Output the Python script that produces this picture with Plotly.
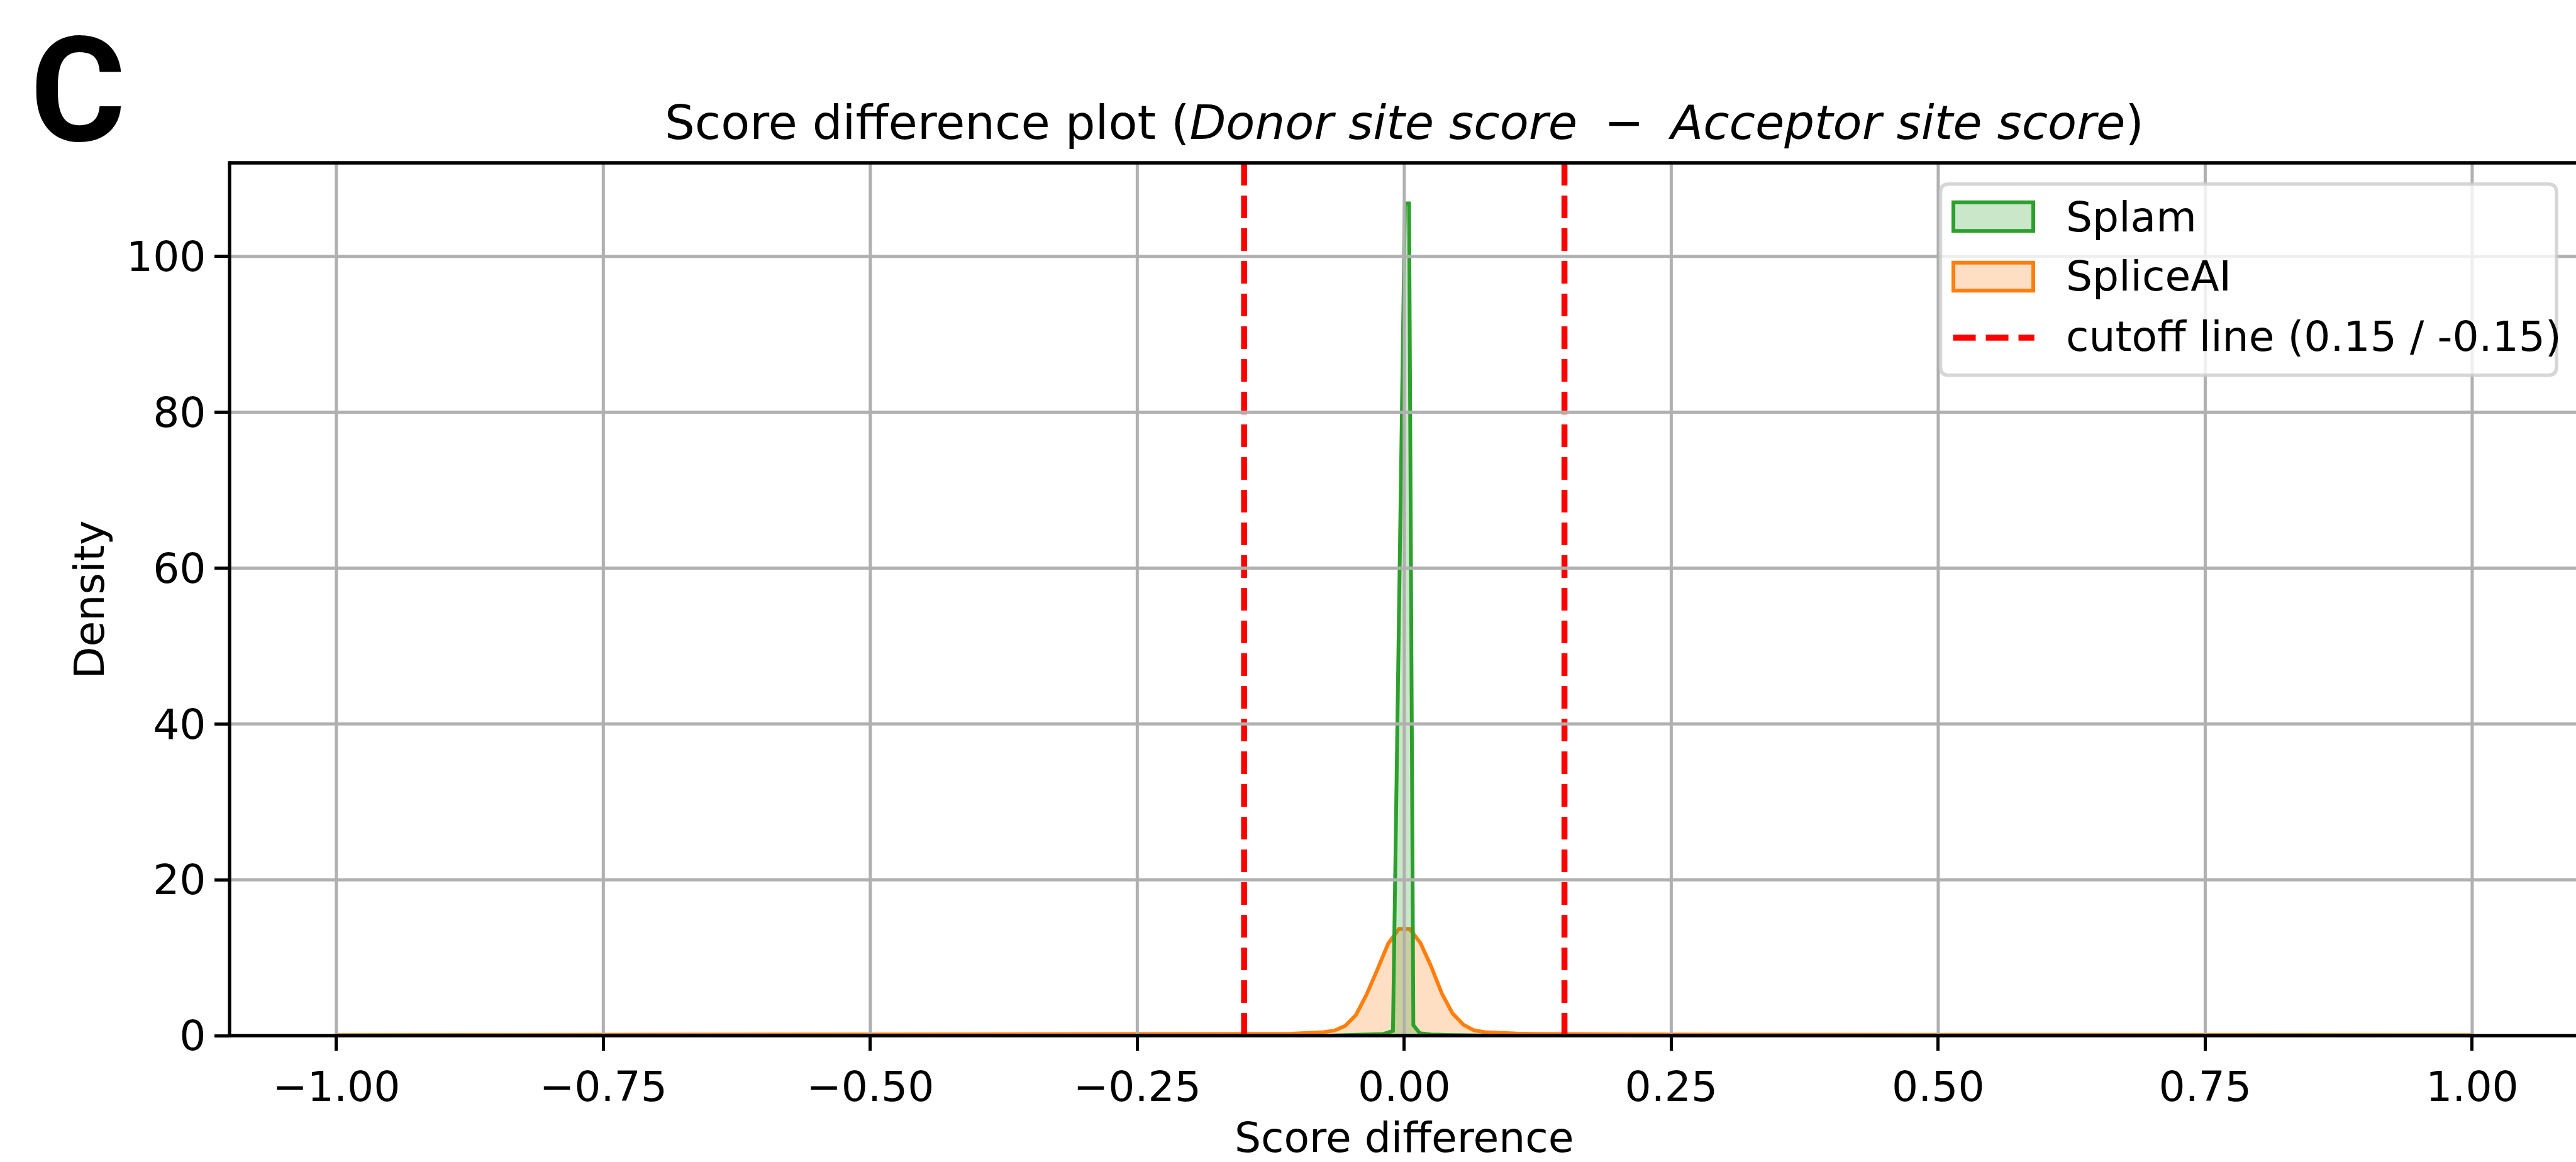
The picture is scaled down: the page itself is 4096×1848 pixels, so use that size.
import plotly.graph_objects as go

# ---------------- data ----------------
spliceai_x = [-1.0, -0.8, -0.6, -0.4, -0.3, -0.2, -0.15, -0.12, -0.1055, -0.0955, -0.0854,
              -0.0754, -0.0653, -0.0553, -0.0452, -0.0352, -0.0251, -0.0151, -0.0050,
              0.0050, 0.0151, 0.0251, 0.0352, 0.0452, 0.0553, 0.0653, 0.0754, 0.0854,
              0.0955, 0.1055, 0.12, 0.15, 0.2, 0.3, 0.4, 0.6, 0.8, 1.0]
spliceai_y = [0.06, 0.07, 0.08, 0.10, 0.12, 0.16, 0.19, 0.22, 0.25, 0.29, 0.35,
              0.45, 0.65, 1.25, 2.65, 5.3, 8.5, 11.8, 13.7,
              13.7, 11.9, 8.9, 5.4, 2.85, 1.4, 0.68, 0.45, 0.37,
              0.31, 0.27, 0.23, 0.19, 0.16, 0.12, 0.10, 0.08, 0.07, 0.06]

splam_x = [-0.07, -0.05, -0.03, -0.02, -0.0106, 0.0006, 0.0045, 0.0085, 0.0146, 0.025, 0.04, 0.06, 0.08]
splam_y = [0.0, 0.05, 0.1, 0.2, 0.6, 106.8, 106.8, 1.35, 0.3, 0.15, 0.08, 0.04, 0.0]

series_names = ["Splam", "SpliceAI"]
series_colors = ["#2ca02c", "#ff7f0e"]
series_fills = ["rgba(44,160,44,0.25)", "rgba(255,127,14,0.25)"]

cutoffs = [-0.15, 0.15]
cutoff_label = "cutoff line (0.15 / -0.15)"
cutoff_color = "#ff0000"

x_ticks = [-1.0, -0.75, -0.5, -0.25, 0.0, 0.25, 0.5, 0.75, 1.0]
x_tick_labels = ["\u22121.00", "\u22120.75", "\u22120.50", "\u22120.25", "0.00", "0.25", "0.50", "0.75", "1.00"]
y_ticks = [0, 20, 40, 60, 80, 100]
y_tick_labels = ["0", "20", "40", "60", "80", "100"]

x_range = [-1.1, 1.0972]
y_range = [0, 112.0]

title_plain = "Score difference plot ("
title_italic_a = "Donor site score"
title_italic_b = "Acceptor site score"
x_title = "Score difference"
y_title = "Density"
panel_label = "C"

# ---------------- layout geometry (pixels in the 4096x1848 window) ----------------
W, H = 4096, 1848
L, R, T, B = 364.9, 4096.0, 259.3, 1647.2
PW, PH = R - L, B - T

FONT = "DejaVu Sans"
FS = 66.3
FS_TITLE = 75.3
FS_PANEL = 232
GRID = "#b0b0b0"
GRID_W = 5.0
SPINE_W = 5.3
CURVE_W = 6.0


def px2x(px):
    return (px - L) / PW


def py2y(py):
    return (B - py) / PH


fig = go.Figure()

# draw SpliceAI first, Splam on top
series = [(series_names[1], spliceai_x, spliceai_y, series_colors[1], series_fills[1]),
          (series_names[0], splam_x, splam_y, series_colors[0], series_fills[0])]
for name, xs, ys, col, fcol in series:
    fig.add_trace(go.Scatter(x=xs, y=ys, mode="lines", name=name, fill="tozeroy",
                             fillcolor=fcol, line=dict(color=col, width=CURVE_W),
                             showlegend=False, hoverinfo="skip"))

shapes = []
# cutoff lines
for c in cutoffs:
    shapes.append(dict(type="line", xref="x", yref="paper", x0=c, x1=c, y0=0, y1=1,
                       line=dict(color=cutoff_color, width=9.5, dash="36px,16px"), layer="above"))
# grid drawn above curves (as in the reference)
for v in x_ticks:
    shapes.append(dict(type="line", xref="x", yref="paper", x0=v, x1=v, y0=0, y1=1,
                       line=dict(color=GRID, width=GRID_W), layer="above"))
for v in y_ticks[1:]:
    shapes.append(dict(type="line", xref="paper", yref="y", x0=0, x1=1, y0=v, y1=v,
                       line=dict(color=GRID, width=GRID_W), layer="above"))
# spines centred on the plot edges (matplotlib style)
spine = dict(color="black", width=SPINE_W)
shapes.append(dict(type="line", xref="paper", yref="paper", x0=0, x1=1, y0=0, y1=0, line=spine, layer="above"))
shapes.append(dict(type="line", xref="paper", yref="paper", x0=0, x1=1, y0=1, y1=1, line=spine, layer="above"))
shapes.append(dict(type="line", xref="paper", yref="paper", x0=0, x1=0, y0=py2y(B + SPINE_W / 2),
                   y1=py2y(T - SPINE_W / 2), line=spine, layer="above"))

# ---------------- legend (manual, matplotlib style) ----------------
lx0, lx1, ly0, ly1, rad = 3085.5, 4065.0, 293.0, 597.0, 13.0
path = (f"M {px2x(lx0 + rad)},{py2y(ly0)} L {px2x(lx1 - rad)},{py2y(ly0)} "
        f"Q {px2x(lx1)},{py2y(ly0)} {px2x(lx1)},{py2y(ly0 + rad)} "
        f"L {px2x(lx1)},{py2y(ly1 - rad)} Q {px2x(lx1)},{py2y(ly1)} {px2x(lx1 - rad)},{py2y(ly1)} "
        f"L {px2x(lx0 + rad)},{py2y(ly1)} Q {px2x(lx0)},{py2y(ly1)} {px2x(lx0)},{py2y(ly1 - rad)} "
        f"L {px2x(lx0)},{py2y(ly0 + rad)} Q {px2x(lx0)},{py2y(ly0)} {px2x(lx0 + rad)},{py2y(ly0)} Z")
shapes.append(dict(type="path", xref="paper", yref="paper", path=path,
                   fillcolor="rgba(255,255,255,0.8)", line=dict(color="rgba(204,204,204,0.8)", width=5.5),
                   layer="above"))

hx0, hx1 = 3106.0, 3233.0
row_base = [368.3, 462.2, 558.6]      # text baselines
patch_box = [(322.0, 367.5), (418.0, 462.5)]
annotations = []
for i in range(2):
    y0p, y1p = patch_box[i]
    shapes.append(dict(type="rect", xref="paper", yref="paper",
                       x0=px2x(hx0), x1=px2x(hx1), y0=py2y(y1p), y1=py2y(y0p),
                       fillcolor=series_fills[i], line=dict(color=series_colors[i], width=CURVE_W),
                       layer="above"))
shapes.append(dict(type="line", xref="paper", yref="paper",
                   x0=px2x(3105.5), x1=px2x(3234.7), y0=py2y(537.3), y1=py2y(537.3),
                   line=dict(color=cutoff_color, width=9.5, dash="36px,16px"), layer="above"))

legend_labels = series_names + [cutoff_label]
for i, lab in enumerate(legend_labels):
    annotations.append(dict(text=lab, xref="paper", yref="paper", x=px2x(3283.0),
                            y=py2y(row_base[i] - 0.346 * FS), xanchor="left", yanchor="middle",
                            showarrow=False, font=dict(family=FONT, size=FS, color="black")))

# title
title_text = (title_plain + "<i>" + title_italic_a + "</i> \u2005\u2212\u2005 <i>" + title_italic_b + "</i>)")
annotations.append(dict(text=title_text, xref="x", yref="paper", x=0.0,
                        y=py2y(221.5 - 0.346 * FS_TITLE), xanchor="center", yanchor="middle",
                        showarrow=False, font=dict(family=FONT, size=FS_TITLE, color="black")))
# axis titles
annotations.append(dict(text=x_title, xref="x", yref="paper", x=0.0,
                        y=py2y(1832.0 - 0.346 * FS), xanchor="center", yanchor="middle",
                        showarrow=False, font=dict(family=FONT, size=FS, color="black")))
annotations.append(dict(text=y_title, xref="paper", yref="paper", x=px2x(165.3 - 0.346 * FS),
                        y=0.5, xanchor="center", yanchor="middle", textangle=-90,
                        showarrow=False, font=dict(family=FONT, size=FS, color="black")))
# panel label
annotations.append(dict(text="<b>" + panel_label + "</b>", xref="paper", yref="paper", x=px2x(46.0),
                        y=py2y(225.0 - 0.342 * FS_PANEL), xanchor="left", yanchor="middle",
                        showarrow=False, font=dict(family="Roboto", size=FS_PANEL, color="black")))

fig.update_layout(
    width=W, height=H,
    margin=dict(l=L, r=W - R, t=T, b=H - B, pad=0),
    paper_bgcolor="white", plot_bgcolor="white",
    showlegend=False,
    shapes=shapes, annotations=annotations,
    font=dict(family=FONT, size=FS, color="black"),
    xaxis=dict(range=x_range, tickvals=x_ticks, ticktext=x_tick_labels, showgrid=False,
               zeroline=False, showline=False,
               ticks="outside", ticklen=23.2, tickwidth=SPINE_W, tickcolor="black",
               tickfont=dict(family=FONT, size=FS, color="black")),
    yaxis=dict(range=y_range, tickvals=y_ticks, ticktext=y_tick_labels, showgrid=False,
               zeroline=False, showline=False,
               ticks="outside", ticklen=23.2, tickwidth=SPINE_W, tickcolor="black",
               tickfont=dict(family=FONT, size=FS, color="black")),
)

fig.write_html("out.html")
